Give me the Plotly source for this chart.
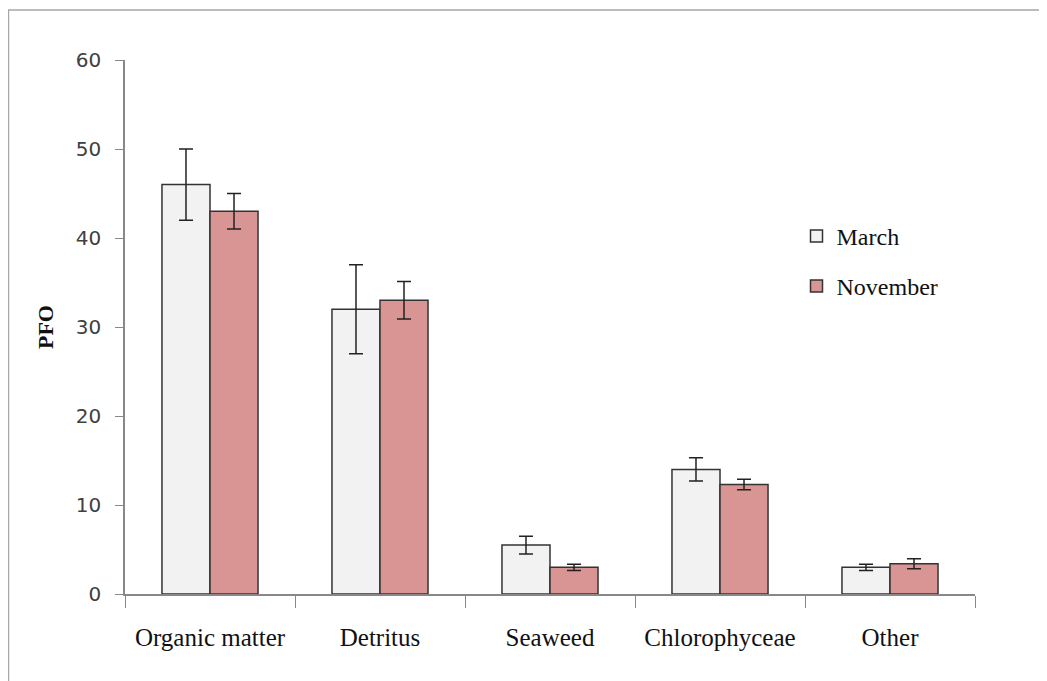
import plotly.graph_objects as go

categories = ["Organic matter", "Detritus", "Seaweed", "Chlorophyceae", "Other"]
march = [46.0, 32.0, 5.5, 14.0, 3.0]
march_err = [4.0, 5.0, 1.0, 1.3, 0.35]
november = [43.0, 33.0, 3.0, 12.3, 3.4]
november_err = [2.0, 2.1, 0.35, 0.6, 0.55]
y_ticks = [0, 10, 20, 30, 40, 50, 60]

fig = go.Figure()
fig.add_trace(go.Bar(
    x=categories, y=march, name="March", legendgroup="a",
    marker=dict(color="#F2F2F2", line=dict(color="#333333", width=1.5)),
    error_y=dict(type="data", array=march_err, color="#222222", thickness=1.5, width=7),
))
fig.add_trace(go.Bar(
    x=categories, y=november, name="November", legendgroup="b",
    marker=dict(color="#D99594", line=dict(color="#333333", width=1.5)),
    error_y=dict(type="data", array=november_err, color="#222222", thickness=1.5, width=7),
))

fig.update_layout(
    width=1047, height=681,
    paper_bgcolor="white", plot_bgcolor="white",
    margin=dict(l=117, r=80, t=52, b=95),
    barmode="group", bargap=0.435, bargroupgap=0,
    showlegend=True,
    legend=dict(x=0.79, y=0.712, xanchor="left", yanchor="top",
                font=dict(family="Liberation Serif", size=24, color="#111111"),
                tracegroupgap=16, bgcolor="rgba(0,0,0,0)"),
    shapes=[dict(type="rect", xref="paper", yref="paper", x0=-0.1371, x1=1.3, y0=-0.4, y1=1.0936,
                 line=dict(color="#A6A6A6", width=1.5), layer="below")],
)
fig.update_xaxes(
    showline=True, linecolor="#888888", linewidth=1.5,
    ticks="outside", tickson="boundaries", ticklen=12, tickcolor="#888888",
    ticklabelstandoff=20,
    tickfont=dict(family="Liberation Serif", size=25, color="#111111"),
    showgrid=False,
)
fig.update_yaxes(
    range=[0, 60], tickvals=y_ticks,
    showline=True, linecolor="#888888", linewidth=1.5,
    ticks="outside", ticklen=8, tickcolor="#888888",
    ticklabelstandoff=10,
    tickfont=dict(family="DejaVu Sans", size=20, color="#404040"),
    showgrid=False, zeroline=False,
    title=dict(text="<b>PFO</b>", font=dict(family="Liberation Serif", size=22, color="#111111"), standoff=16),
)
fig.write_html("out.html")
